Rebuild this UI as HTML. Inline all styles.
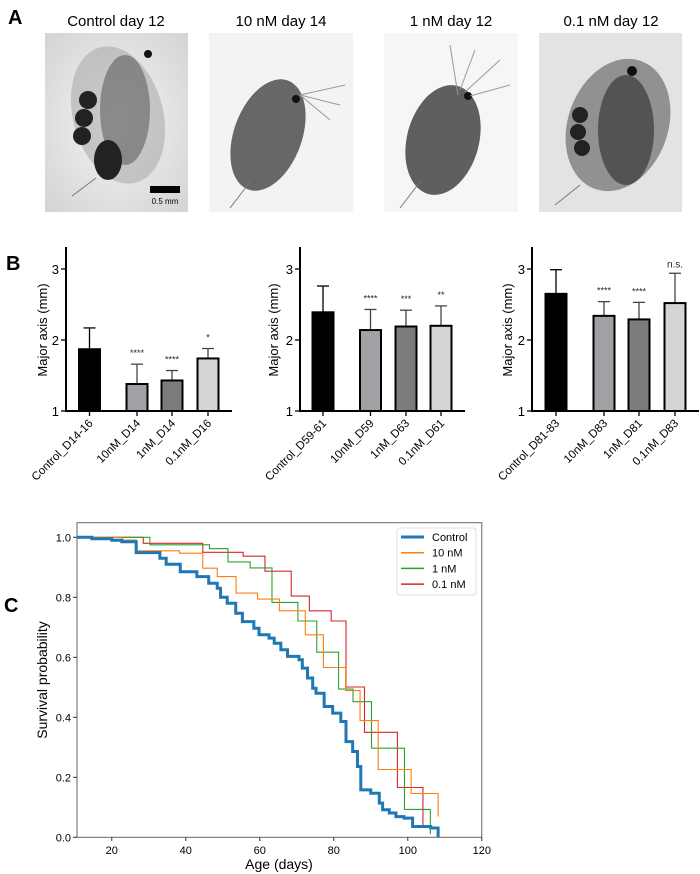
<!DOCTYPE html>
<html><head><meta charset="utf-8"><style>
body{margin:0;background:#fff;width:700px;height:874px;overflow:hidden;font-family:"Liberation Sans",sans-serif}
svg{display:block}
</style></head><body>
<svg id="fig" width="700" height="874" xmlns="http://www.w3.org/2000/svg">
<defs>
<radialGradient id="bg1" cx="0.5" cy="0.5" r="0.8"><stop offset="0" stop-color="#f4f4f4"/><stop offset="1" stop-color="#cfcfcf"/></radialGradient>
</defs>
<text x="8" y="24" font-size="20" font-weight="bold">A</text>
<g>
<g>
<rect x="45" y="33" width="143" height="179" fill="url(#bg1)"/>
<ellipse cx="118" cy="115" rx="45" ry="70" fill="#9a9a9a" opacity="0.45" transform="rotate(-15 118 115)"/>
<ellipse cx="125" cy="110" rx="25" ry="55" fill="#555" opacity="0.55"/>
<circle cx="88" cy="100" r="9" fill="#222"/><circle cx="84" cy="118" r="9" fill="#222"/><circle cx="82" cy="136" r="9" fill="#222"/>
<ellipse cx="108" cy="160" rx="14" ry="20" fill="#222"/>
<circle cx="148" cy="54" r="4" fill="#111"/>
<line x1="96" y1="178" x2="72" y2="196" stroke="#777"/>
<rect x="150" y="186" width="30" height="7" fill="#000"/>
<text x="165" y="204" font-size="8" text-anchor="middle">0.5 mm</text>
</g>
<g>
<rect x="209" y="33" width="144" height="179" fill="#f3f3f3"/>
<ellipse cx="268" cy="135" rx="34" ry="58" fill="#444" opacity="0.8" transform="rotate(20 268 135)"/>
<circle cx="296" cy="99" r="4" fill="#111"/>
<line x1="250" y1="182" x2="230" y2="208" stroke="#777"/>
<path d="M300 95 L345 85 M300 95 L340 105 M300 95 L330 120" stroke="#999" fill="none"/>
</g>
<g>
<rect x="384" y="33" width="134" height="179" fill="#f6f6f6"/>
<ellipse cx="443" cy="140" rx="36" ry="56" fill="#3a3a3a" opacity="0.8" transform="rotate(15 443 140)"/>
<circle cx="468" cy="96" r="4" fill="#111"/>
<path d="M458 95 L450 45 M460 90 L475 50 M465 92 L500 60 M470 96 L510 85" stroke="#999" fill="none"/>
<line x1="420" y1="182" x2="400" y2="208" stroke="#777"/>
</g>
<g>
<rect x="539" y="33" width="143" height="179" fill="#e3e3e3"/>
<ellipse cx="618" cy="125" rx="50" ry="68" fill="#666" opacity="0.65" transform="rotate(20 618 125)"/>
<ellipse cx="626" cy="130" rx="28" ry="55" fill="#333" opacity="0.65"/>
<circle cx="580" cy="115" r="8" fill="#222"/><circle cx="578" cy="132" r="8" fill="#222"/><circle cx="582" cy="148" r="8" fill="#222"/>
<circle cx="632" cy="71" r="5" fill="#111"/>
<line x1="580" y1="185" x2="555" y2="205" stroke="#777"/>
</g>
</g>
<g font-size="15" text-anchor="middle">
<text x="116" y="26">Control day 12</text>
<text x="281" y="26">10 nM day 14</text>
<text x="451" y="26">1 nM day 12</text>
<text x="611" y="26">0.1 nM day 12</text>
</g>
<text x="6" y="270" font-size="20" font-weight="bold">B</text>
<g id="panelB"></g>
<text x="4" y="612" font-size="20" font-weight="bold">C</text>
<g id="panelC"></g>
</svg>
<script>
// ---- Panel B data ----
const bLabels1 = ["Control_D14-16","10nM_D14","1nM_D14","0.1nM_D16"];
const bLabels2 = ["Control_D59-61","10nM_D59","1nM_D63","0.1nM_D61"];
const bLabels3 = ["Control_D81-83","10nM_D83","1nM_D81","0.1nM_D83"];
const bMeans1 = [1.87,1.38,1.43,1.74];
const bMeans2 = [2.39,2.14,2.19,2.20];
const bMeans3 = [2.65,2.34,2.29,2.52];
const bSd1 = [0.30,0.28,0.14,0.14];
const bSd2 = [0.37,0.29,0.23,0.28];
const bSd3 = [0.34,0.20,0.24,0.42];
const bSig1 = ["","****","****","*"];
const bSig2 = ["","****","***","**"];
const bSig3 = ["","****","****","n.s."];
const bTicks = [1,2,3];
// ---- Panel C data ----
const cSeriesNames = ["Control","10 nM","1 nM","0.1 nM"];
const cControlDays = [14.6,20,22.7,26.6,33,34.7,38.5,43,46.2,48.5,49.4,51.2,53.5,55.3,58.4,59.8,62.5,63.9,65.7,67.5,70.6,71.5,72.9,74.3,75.2,77.4,79.7,81.9,83.3,85.1,86.4,87.3,90,92.3,93.2,95,96.8,99,101.3,106.2,108.2];
const cControlSurv = [0.995,0.99,0.985,0.949,0.93,0.91,0.885,0.869,0.847,0.83,0.80,0.78,0.747,0.719,0.697,0.675,0.664,0.647,0.625,0.603,0.592,0.564,0.531,0.497,0.48,0.436,0.414,0.386,0.319,0.286,0.236,0.158,0.147,0.114,0.092,0.081,0.069,0.064,0.036,0.031,0.0];
const c10Days = [22.7,26.6,38.3,44.6,48.5,53.6,59.4,65.3,72.3,77.2,83.2,87.1,92,100.9,108.2];
const c10Surv = [0.991,0.955,0.947,0.897,0.869,0.814,0.794,0.755,0.675,0.566,0.489,0.389,0.226,0.146,0.069];
const c1Days = [30.3,46.4,51.4,57.4,63.3,70.3,75.4,81.3,85.2,90.2,99.1,106.1];
const c1Surv = [0.975,0.962,0.918,0.898,0.783,0.721,0.617,0.494,0.452,0.297,0.093,0.01];
const c01Days = [28.5,44.6,55.5,61.4,68.5,73.4,79.3,83.3,88.3,97.2,104.1];
const c01Surv = [0.98,0.95,0.937,0.887,0.804,0.755,0.721,0.501,0.35,0.166,0.04];
const cXTicks = [20,40,60,80,100,120];
const cYTicks = [0,0.2,0.4,0.6,0.8,1.0];

const NS="http://www.w3.org/2000/svg";
function mk(tag,attrs,parent,text){const e=document.createElementNS(NS,tag);for(const k in attrs)e.setAttribute(k,attrs[k]);if(text!==undefined)e.textContent=text;parent.appendChild(e);return e;}

const B=document.getElementById('panelB');
const bColors=["#000000","#a0a1a5","#7b7c7e","#d4d5d5"];
const by=v=>411-(v-1)*71;
const panels=[
 {ax:66,end:232,lab:42,bars:[89.5,137,172,208],L:bLabels1,M:bMeans1,S:bSd1,G:bSig1},
 {ax:300,end:465,lab:273,bars:[323,370.5,406,441],L:bLabels2,M:bMeans2,S:bSd2,G:bSig2},
 {ax:532,end:699,lab:507,bars:[556,604,639,675],L:bLabels3,M:bMeans3,S:bSd3,G:bSig3}];
panels.forEach((p,pi)=>{
 const g=mk('g',{},B);
 
 
 for(let i=0;i<p.M.length;i++){
  const cx=p.bars[i],top=by(p.M[i]),sdTop=by(p.M[i]+p.S[i]);
  const e=mk('line',{x1:cx,x2:cx,y1:top,y2:sdTop,stroke:i==0?'#000':'#444','stroke-width':1.3},g);
  
  
  mk('line',{x1:cx-6,x2:cx+6,y1:sdTop,y2:sdTop,stroke:i==0?'#000':'#444','stroke-width':1.3},g);
  const r=mk('rect',{x:cx-10.5,y:top,width:21,height:by(1)-top,fill:bColors[i],stroke:'#000','stroke-width':2},g);
  
  
  if(p.G[i]){const s=mk('text',{x:cx,y:sdTop-(p.G[i]=="n.s."?6:8),'font-size':p.G[i]=="n.s."?10:9,'text-anchor':'middle',fill:'#222'},g,p.G[i]);
   
   }
  mk('line',{x1:cx,x2:cx,y1:by(1),y2:by(1)+5,stroke:'#000','stroke-width':1.3},g);
  const t=mk('text',{x:0,y:0,'font-size':11.5,'text-anchor':'end',transform:`translate(${cx+4},${by(1)+13}) rotate(-45)`},g,p.L[i]);
  
  
 }
 mk('line',{x1:p.ax,x2:p.ax,y1:247,y2:by(1)+1,stroke:'#000','stroke-width':2},g);
 mk('line',{x1:p.ax-1,x2:p.end,y1:by(1),y2:by(1),stroke:'#000','stroke-width':2},g);
 bTicks.forEach(v=>{mk('line',{x1:p.ax-5,x2:p.ax,y1:by(v),y2:by(v),stroke:'#000','stroke-width':1.3},g);
  const t=mk('text',{x:p.ax-7,y:by(v)+5,'font-size':13,'text-anchor':'end'},g,v);
  
  });
 const yl=mk('text',{x:0,y:0,'font-size':13,'text-anchor':'middle',transform:`translate(${p.lab+5},330) rotate(-90)`},g,'Major axis (mm)');
 
 
});

// ---- Panel C ----
const C=document.getElementById('panelC');
const xmin=10.6,xmax=120;
const cx=d=>77+(d-xmin)*3.7;
const cy=s=>837.3-s*300;
mk('rect',{x:77,y:522.7,width:cx(xmax)-77,height:837.3-522.7,fill:'none',stroke:'#666','stroke-width':1},C);
cXTicks.forEach(v=>{mk('line',{x1:cx(v),x2:cx(v),y1:837.3,y2:841,stroke:'#333'},C);
 const t=mk('text',{x:cx(v),y:854,'font-size':11,'text-anchor':'middle'},C,v);
 
 });
cYTicks.forEach(v=>{mk('line',{x1:73,x2:77,y1:cy(v),y2:cy(v),stroke:'#333'},C);
 const t=mk('text',{x:71,y:cy(v)+4,'font-size':11,'text-anchor':'end'},C,v.toFixed(1));
 
 });
const xt=mk('text',{x:279,y:869,'font-size':14,'text-anchor':'middle'},C,'Age (days)');


const yt=mk('text',{x:0,y:0,'font-size':14,'text-anchor':'middle',transform:'translate(47,680) rotate(-90)'},C,'Survival probability');


const series=[[cControlDays,cControlSurv,'#1f77b4',3],[c10Days,c10Surv,'#ff7f0e',1.1],[c1Days,c1Surv,'#2ca02c',1.1],[c01Days,c01Surv,'#d62728',1.1]];
[3,2,1,0].forEach(k=>{
 const [D,S,col,w]=series[k];
 let d='M'+cx(xmin)+' '+cy(1);let prev=1;
 for(let i=0;i<D.length;i++){d+=' L'+cx(D[i])+' '+cy(prev)+' L'+cx(D[i])+' '+cy(S[i]);prev=S[i];}
 const p=mk('path',{d:d,fill:'none',stroke:col,'stroke-width':w},C);
 
 
});
const lg=mk('g',{},C);


mk('rect',{x:397,y:528,width:79,height:67,rx:3,fill:'#fff',stroke:'#ddd'},lg);
series.forEach((s,i)=>{const y=537+i*15.7;
 mk('line',{x1:401,x2:424,y1:y,y2:y,stroke:s[2],'stroke-width':s[3]==3?3:1.5},lg);
 const t=mk('text',{x:432,y:y+4,'font-size':11},lg,cSeriesNames[i]);
 
 });
</script>
</body></html>
